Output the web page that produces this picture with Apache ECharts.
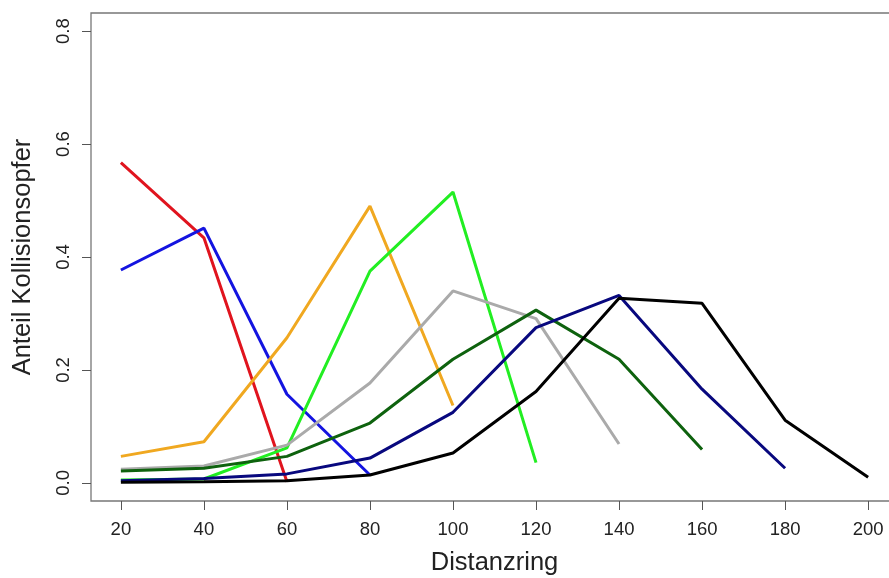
<!DOCTYPE html>
<html><head><meta charset="utf-8">
<script src="https://cdn.jsdelivr.net/npm/echarts@6/dist/echarts.min.js"></script>
<style>html,body{margin:0;padding:0;background:#fff}#c{width:889px;height:578px}</style>
</head><body><div id="c"></div>
<script>
const distances = [20, 40, 60, 80, 100, 120, 140, 160, 180, 200];
const xTicks = [20, 40, 60, 80, 100, 120, 140, 160, 180, 200];
const yTicks = [0, 0.2, 0.4, 0.6, 0.8];
const seriesRed = [0.567, 0.434, 0.002];
const seriesBlue = [0.377, 0.451, 0.157, 0.014];
const seriesOrange = [0.047, 0.073, 0.257, 0.490, 0.137];
const seriesLime = [0.005, 0.007, 0.062, 0.375, 0.515, 0.036];
const seriesGray = [0.024, 0.030, 0.067, 0.177, 0.340, 0.291, 0.069];
const seriesDarkGreen = [0.021, 0.026, 0.047, 0.106, 0.219, 0.306, 0.219, 0.059];
const seriesNavy = [0.004, 0.008, 0.016, 0.044, 0.125, 0.275, 0.332, 0.166, 0.026];
const seriesBlack = [0.001, 0.002, 0.004, 0.014, 0.053, 0.162, 0.327, 0.318, 0.111, 0.010];

const defs = [
  [seriesRed, '#e0141e'],
  [seriesBlue, '#1414e0'],
  [seriesOrange, '#f0a820'],
  [seriesLime, '#22ee22'],
  [seriesGray, '#aaaaaa'],
  [seriesDarkGreen, '#0e620e'],
  [seriesNavy, '#08087e'],
  [seriesBlack, '#000000']
];
const font = '"Liberation Sans", Arial, sans-serif';
const chart = echarts.init(document.getElementById('c'));
chart.setOption({
  animation: false,
  backgroundColor: '#fff',
  grid: { left: 91, top: 13, width: 807, height: 488, containLabel: false, outerBoundsMode: 'none',
    show: true, borderColor: '#777', borderWidth: 1.3, backgroundColor: 'transparent' },
  xAxis: {
    type: 'value', min: 12.8, max: 207.2,
    name: 'Distanzring', nameLocation: 'middle', nameGap: 49,
    nameTextStyle: { fontFamily: font, fontSize: 25.5, color: '#222' },
    axisLine: { show: false, onZero: false },
    splitLine: { show: false },
    axisTick: { show: true, inside: false, length: 9, customValues: xTicks, lineStyle: { color: '#555', width: 1 } },
    axisLabel: { customValues: xTicks, fontFamily: font, fontSize: 18.5, color: '#222', margin: 19 }
  },
  yAxis: {
    type: 'value', min: -0.032, max: 0.832,
    name: 'Anteil Kollisionsopfer', nameLocation: 'middle', nameGap: 55, nameRotate: 90,
    nameTextStyle: { fontFamily: font, fontSize: 25.5, color: '#222' },
    axisLine: { show: false, onZero: false },
    splitLine: { show: false },
    axisTick: { show: true, inside: false, length: 9, customValues: yTicks, lineStyle: { color: '#555', width: 1 } },
    axisLabel: { customValues: yTicks, rotate: 90, fontFamily: font, fontSize: 18.5, color: '#222', margin: 18,
      formatter: v => v.toFixed(1) }
  },
  series: defs.map(([vals, color]) => ({
    type: 'line',
    data: vals.map((v, i) => [distances[i], v]),
    symbol: 'none',
    lineStyle: { color: color, width: 3 },
    itemStyle: { color: color }
  }))
});
</script></body></html>
